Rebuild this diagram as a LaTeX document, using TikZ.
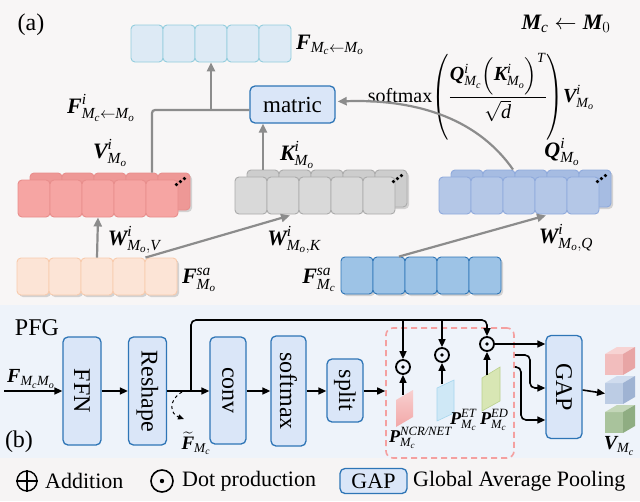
\RequirePackage{fix-cm}
\documentclass[tikz,border=0pt]{standalone}
\usepackage{amsmath}
\usepackage{graphicx}
\usepackage{fontspec}
\setmainfont{Liberation Serif}
\usetikzlibrary{arrows.meta,shadows,calc}
\definecolor{bgtop}{HTML}{F8F6F6}
\definecolor{bgbot}{HTML}{EEF3FA}
\definecolor{bgleg}{HTML}{F6F4F4}
\definecolor{boxfill}{HTML}{DAE6F8}
\definecolor{boxblue}{HTML}{2E75B6}
\definecolor{arrowgray}{HTML}{8C8C8C}
\definecolor{topfill}{HTML}{DDEAF5}
\definecolor{topdraw}{HTML}{93CDDD}
\definecolor{redfill}{HTML}{F6A5A3}
\definecolor{redback}{HTML}{EE9896}
\definecolor{reddraw}{HTML}{E88E8C}
\definecolor{grayfill}{HTML}{D9D9D9}
\definecolor{grayback}{HTML}{CDCDCD}
\definecolor{graydraw}{HTML}{ABABAB}
\definecolor{qfill}{HTML}{B4C7E7}
\definecolor{qback}{HTML}{A6BCE2}
\definecolor{qdraw}{HTML}{8FAADC}
\definecolor{peachfill}{HTML}{FCE4D6}
\definecolor{peachdraw}{HTML}{F8CBAD}
\definecolor{mcfill}{HTML}{9DC3E6}
\definecolor{dashred}{HTML}{F4A0A0}
\definecolor{cuberf}{HTML}{F2BDBD}
\definecolor{cubert}{HTML}{F7D3D3}
\definecolor{cubers}{HTML}{E8A5A5}
\definecolor{cubebf}{HTML}{BCCCE4}
\definecolor{cubebt}{HTML}{D0DCEE}
\definecolor{cubebs}{HTML}{9FB3D3}
\definecolor{cubegf}{HTML}{A9C39C}
\definecolor{cubegt}{HTML}{C3D6B8}
\definecolor{cubegs}{HTML}{8FAD82}
\definecolor{sheetr}{HTML}{F2A8A8}
\definecolor{sheetb}{HTML}{CFE8F6}
\definecolor{sheetbd}{HTML}{A6D6EE}
\definecolor{sheetg}{HTML}{D8E6B4}
\definecolor{sheetgd}{HTML}{BBD08E}
\newcommand\bv[1]{\text{\bfseries\itshape #1}}
\newcommand\iv[1]{\text{\itshape #1}}
\newcommand\tallparen[1]{\vcenter{\hbox{\scalebox{1}[1.38]{$\Biggl#1$}}}}
\newcommand\mycube[6]{%
  \fill[#4] (#1,#2) rectangle ++(18,21);
  \fill[#5] (#1,#2) -- ++(12,-7) -- ++(18,0) -- ++(-12,7) -- cycle;
  \fill[#6] ($(#1,#2)+(18,0)$) -- ++(12,-7) -- ++(0,21) -- ++(-12,7) -- cycle;
  \coordinate (#3) at ($(#1,#2)+(0,10.5)$);}
\begin{document}
\begin{tikzpicture}[x=1pt,y=-1pt,
  cell/.style={rounded corners=4pt, minimum width=32pt, minimum height=37pt, inner sep=0pt, line width=0.9pt},
  shad/.style={drop shadow={shadow xshift=2pt,shadow yshift=-2pt,opacity=0.3}},
  garrow/.style={draw=arrowgray, line width=2.2pt, -{Triangle[length=9pt,width=8pt]}},
  barrow/.style={draw=black, line width=1.6pt, -{Triangle[length=8pt,width=7pt]}},
  opbox/.style={draw=boxblue, fill=boxfill, rounded corners=5pt, line width=1.3pt, inner sep=0pt, font=\fontsize{24}{28}\selectfont},
  lab/.style={inner sep=0pt, font=\fontsize{22}{26}\selectfont},
  odotc/.style={circle, draw=black, line width=1.8pt, minimum size=14pt, inner sep=0pt}]
\path[use as bounding box] (0,0) rectangle (640,501);
\fill[bgtop] (0,0) rectangle (640,305);
\fill[bgbot] (0,305) rectangle (640,458);
\fill[bgleg] (0,458) rectangle (640,501);

% ---------- (a) ----------
\node[inner sep=0pt, font=\fontsize{24}{28}\selectfont] (la) at (31,25) {(a)};
\node[lab] (mcm0) at (566,24) {$\bv{M}_{\iv{c}}\leftarrow\bv{M}_0$};

% top output row
\foreach \i in {0,...,4}
  \node[cell, fill=topfill, draw=topdraw] (top\i) at ({147+32*\i},43.5) {};
\node[lab, anchor=west] (ltop) at (296,45) {$\bv{F}_{\iv{M}_{\iv{c}}\leftarrow\iv{M}_{\iv{o}}}$};

% matric
\node[draw=boxblue, fill=boxfill, rounded corners=5pt, line width=1.3pt, minimum width=85pt, minimum height=37pt, inner sep=0pt, font=\fontsize{23}{27}\selectfont] (matric) at (292.5,104.5) {matric};

% V block (red)
\foreach \i in {0,...,4}
  \node[cell, fill=redback, draw=reddraw, shad] (vb\i) at ({46+32*\i},191.5) {};
\foreach \i in {0,...,4}
  \node[cell, fill=redfill, draw=reddraw] (vf\i) at ({34+32*\i},198.5) {};
% K block (gray)
\foreach \i in {0,...,4}
  \node[cell, fill=grayback, draw=graydraw, shad] (kb\i) at ({263+32*\i},188.5) {};
\foreach \i in {0,...,4}
  \node[cell, fill=grayfill, draw=graydraw] (kf\i) at ({251+32*\i},195.5) {};
% Q block (blue)
\foreach \i in {0,...,4}
  \node[cell, fill=qback, draw=qdraw, shad] (qb\i) at ({467+32*\i},188.5) {};
\foreach \i in {0,...,4}
  \node[cell, fill=qfill, draw=qdraw] (qf\i) at ({455+32*\i},195.5) {};
% dots on stacks
\foreach \n in {vf4,kf4,qf4}{
  \fill ($(\n.north east)+(-2,5)$) circle (1.8);
  \fill ($(\n.north east)+(2,2)$) circle (1.8);
  \fill ($(\n.north east)+(6,-1)$) circle (1.8);}

% input rows
\foreach \i in {0,...,4}
  \node[cell, fill=peachfill, draw=peachdraw, shad] (so\i) at ({33+32*\i},276.5) {};
\foreach \i in {0,...,4}
  \node[cell, fill=mcfill, draw=boxblue, shad] (sc\i) at ({357+32*\i},275.5) {};

% labels (a)
\node[lab] (lfi) at (101,108) {$\bv{F}^{\iv{i}}_{\iv{M}_{\iv{c}}\leftarrow\iv{M}_{\iv{o}}}$};
\node[lab] (lv) at (110,153) {$\bv{V}^{\iv{i}}_{\iv{M}_{\iv{o}}}$};
\node[lab] (lk) at (297,155) {$\bv{K}^{\iv{i}}_{\iv{M}_{\iv{o}}}$};
\node[lab] (lq) at (562,152) {$\bv{Q}^{\iv{i}}_{\iv{M}_{\iv{o}}}$};
\node[lab] (lwv) at (134,240) {$\bv{W}^{\iv{i}}_{\iv{M}_{\iv{o}},\iv{V}}$};
\node[lab] (lwk) at (294,240) {$\bv{W}^{\iv{i}}_{\iv{M}_{\iv{o}},\iv{K}}$};
\node[lab] (lwq) at (566,238) {$\bv{W}^{\iv{i}}_{\iv{M}_{\iv{o}},\iv{Q}}$};
\node[lab] (lso) at (199,280) {$\bv{F}^{\iv{sa}}_{\iv{M}_{\iv{o}}}$};
\node[lab] (lsc) at (319,280) {$\bv{F}^{\iv{sa}}_{\iv{M}_{\iv{c}}}$};
\node[inner sep=0pt, font=\fontsize{20}{24}\selectfont] (formula) at (481,97)
  {$\text{softmax}\mathopen{\tallparen(}\dfrac{\bv{Q}^{\iv{i}}_{\iv{M}_{\iv{c}}}\Bigl(\bv{K}^{\iv{i}}_{\iv{M}_{\iv{o}}}\Bigr)^{\iv{T}}}{\sqrt{\iv{d}}}\mathclose{\tallparen)}\bv{V}^{\iv{i}}_{\iv{M}_{\iv{o}}}$};

% connectors (a)
\coordinate (jv) at (152,110);
\draw[draw=arrowgray, line width=2.2pt, rounded corners=3pt] ($(vb3.north)+(10,0)$) -- (jv) -- (matric.west |- jv);
\draw[garrow] (top2.south |- jv) -- (top2.south);
\draw[garrow] (kb0.north) -- (matric.south -| kb0.north);
\draw[garrow] (qb1.north -| 513,0) .. controls (475,115) and (410,99) .. ($(matric.east)+(2,-3)$);
\draw[garrow] (so2.north) -- (vf2.south);
\draw[garrow] (so3.north east) -- ($(kf1.south)+(7,1)$);
\draw[garrow] ($(sc1.north)+(10,0)$) -- ($(qf2.south)+(27,1)$);

% ---------- (b) ----------
\node[inner sep=0pt, font=\fontsize{24}{28}\selectfont] (pfg) at (37,328) {PFG};
\node[inner sep=0pt, font=\fontsize{24}{28}\selectfont] (lb) at (19,442) {(b)};
\node[inner sep=0pt, font=\fontsize{20}{24}\selectfont] (lfin) at (31,379) {$\bv{F}_{\iv{M}_{\iv{c}}\iv{M}_{\iv{o}}}$};
\coordinate (fin) at (4,391);

\node[opbox, minimum width=38pt, minimum height=108pt] (ffn) at (82,391) {\rotatebox{-90}{FFN}};
\node[opbox, minimum width=38pt, minimum height=108pt] (reshape) at (147.5,391) {\rotatebox{-90}{Reshape}};
\node[opbox, minimum width=36pt, minimum height=107pt] (conv) at (228,390.5) {\rotatebox{-90}{conv}};
\node[opbox, minimum width=35pt, minimum height=110pt] (smx) at (288.5,391) {\rotatebox{-90}{softmax}};
\node[opbox, minimum width=36pt, minimum height=63pt] (split) at (345,390.5) {\rotatebox{-90}{split}};
\node[opbox, minimum width=36pt, minimum height=103pt] (gap) at (564,387) {\rotatebox{-90}{GAP}};

\node[draw=dashred, dashed, dash pattern=on 6pt off 4pt, line width=1.6pt, rounded corners=7pt, minimum width=128pt, minimum height=130pt, inner sep=0pt] (dbox) at (450,393) {};

% sheets
\shade[top color=sheetr!55!white, bottom color=sheetr] (396,400) -- (413,390) -- (413,417) -- (396,427) -- cycle;
\fill[sheetb] (437,388) -- (454,380) -- (454,413) -- (437,421) -- cycle;
\draw[sheetbd, line width=0.6pt] (437,388) -- (454,380) -- (454,413) -- (437,421) -- cycle;
\fill[sheetg] (482,378) -- (500,367) -- (500,401) -- (482,411) -- cycle;
\draw[sheetgd, line width=0.6pt] (482,378) -- (500,367) -- (500,401) -- (482,411) -- cycle;
\coordinate (s1) at (404,395);
\coordinate (s2) at (445,384);
\coordinate (s3) at (487,375);

% dot products
\node[odotc] (d1) at (403,367) {};
\node[odotc] (d2) at (442,355) {};
\node[odotc] (d3) at (487,344) {};
\foreach \d in {d1,d2,d3} \fill (\d) circle (1.8);

\draw[barrow] (s1 -| d1) -- (d1.south);
\draw[barrow] (s2 -| d2) -- (d2.south);
\draw[barrow] (s3 -| d3) -- (d3.south);

\node[inner sep=0pt, anchor=west, font=\fontsize{18}{22}\selectfont] (lp1) at (389,438) {$\bv{P}^{\iv{NCR/NET}}_{\iv{M}_{\iv{c}}}$};
\node[inner sep=0pt, anchor=west, font=\fontsize{18}{22}\selectfont] (lp2) at (450,420) {$\bv{P}^{\iv{ET}}_{\iv{M}_{\iv{c}}}$};
\node[inner sep=0pt, anchor=west, font=\fontsize{18}{22}\selectfont] (lp3) at (480,420) {$\bv{P}^{\iv{ED}}_{\iv{M}_{\iv{c}}}$};

% connectors (b)
\draw[barrow] (fin) -- (ffn.west);
\draw[barrow] (ffn.east) -- (reshape.west);
\draw[barrow] (reshape.east) -- (conv.west |- reshape.east);
\draw[barrow] (conv.east |- ffn.east) -- (smx.west |- ffn.east);
\draw[barrow] (smx.east |- ffn.east) -- (split.west |- ffn.east);
\draw[barrow] (split.east |- ffn.east) -- (dbox.west |- ffn.east);
\coordinate (br) at (191,391);
\coordinate (tl) at (191,320);
\draw[barrow, rounded corners=5pt] (br) -- (tl) -- (tl -| d3) -- (d3.north);
\draw[barrow] (tl -| d1) -- (d1.north);
\draw[barrow] (tl -| d2) -- (d2.north);
\draw[dashed, line width=1pt, -{Triangle[length=6pt,width=5pt]}] (182,392) .. controls (168,400) and (170,414) .. (184,419);
\node[inner sep=0pt, font=\fontsize{19}{23}\selectfont] (lft) at (196,443) {$\widetilde{\bv{F}}_{\iv{M}_{\iv{c}}}$};

\draw[barrow] (d3.east) -- (gap.west |- d3.east);
\draw[barrow, rounded corners=5pt] (dbox.east |- 0,355) -- (530,355) -- (530,388) -- (gap.west |- 0,388);
\draw[barrow, rounded corners=5pt] (dbox.east |- 0,367) -- (521,367) -- (521,420) -- (gap.west |- 0,420);

% cubes
\mycube{605}{354}{c1}{cuberf}{cubert}{cubers}
\mycube{605}{383}{c2}{cubebf}{cubebt}{cubebs}
\mycube{605}{412}{c3}{cubegf}{cubegt}{cubegs}
\draw[barrow] (gap.east |- 0,390) -- (c2);
\node[inner sep=0pt, font=\fontsize{20}{24}\selectfont] (lvm) at (619,446) {$\bv{V}_{\iv{M}_{\iv{c}}}$};

% ---------- legend ----------
\node[circle, draw=black, line width=1.4pt, minimum size=20pt, inner sep=0pt] (plus) at (27,481) {};
\draw[line width=1.4pt] (plus.north) -- (plus.south) (plus.west) -- (plus.east);
\node[inner sep=0pt, anchor=west, font=\fontsize{22}{26}\selectfont] (ladd) at (45,481) {Addition};
\node[odotc, line width=1.6pt, minimum size=22pt] (dotl) at (162,481) {};
\fill (dotl) circle (2.2);
\node[inner sep=0pt, anchor=west, font=\fontsize{22}{26}\selectfont] (ldot) at (182,481) {Dot production};
\node[draw=boxblue, fill=boxfill, rounded corners=5pt, line width=1.3pt, minimum width=67pt, minimum height=25pt, inner sep=0pt, font=\fontsize{22}{26}\selectfont] (gapl) at (373.5,481) {GAP};
\node[inner sep=0pt, anchor=west, font=\fontsize{22}{26}\selectfont] (lgap) at (413,481) {Global Average Pooling};
\end{tikzpicture}
\end{document}
